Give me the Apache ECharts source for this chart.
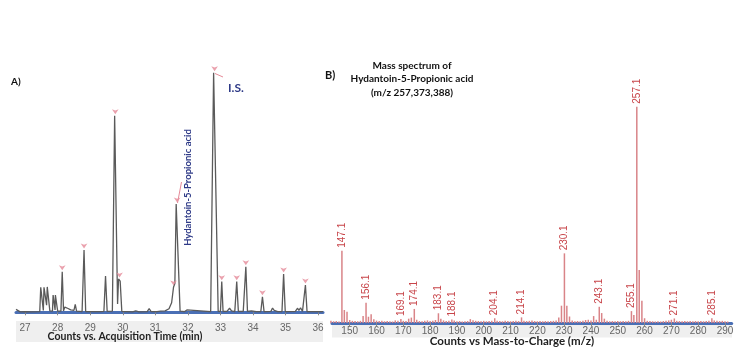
<!DOCTYPE html>
<html>
<head>
<meta charset="utf-8">
<script src="https://cdn.jsdelivr.net/npm/echarts@6/dist/echarts.min.js"></script>
<style>html,body{margin:0;padding:0;background:#fff;}#c{width:750px;height:363px;}</style>
</head>
<body>
<div id="c"></div>
<script>
// ---- Panel A: chromatogram (time in min, relative intensity %) ----
const chromTime = [26.72,26.76,26.85,27.0,27.2,27.45,27.48,27.53,27.56,27.58,27.64,27.66,27.68,27.73,27.76,27.84,27.86,27.9,27.92,27.93,27.97,28.0,28.1,28.14,28.18,28.22,28.28,28.32,28.36,28.4,28.44,28.5,28.54,28.58,28.75,28.81,28.86,29.3,29.42,29.47,29.52,29.68,29.75,29.79,29.84,29.87,29.92,29.97,30.3,30.4,30.5,30.75,30.81,30.87,31.05,31.1,31.16,31.22,31.3,31.42,31.5,31.56,31.6,31.64,31.7,31.76,31.9,31.97,32.03,32.7,32.79,32.84,32.93,33.0,33.04,33.08,33.2,33.28,33.34,33.44,33.5,33.55,33.7,33.78,33.83,33.95,34.1,34.24,34.29,34.34,34.55,34.6,34.65,34.7,34.76,34.89,34.94,34.99,35.3,35.37,35.41,35.46,35.52,35.56,35.61,35.66,35.85,35.9,35.95,36.15];
const chromIntensity = [1.2,0.6,0.2,0.3,0.2,0.3,10.4,10.4,0.8,10.4,10.4,3.0,10.6,10.4,0.6,0.5,7.2,7.2,1.0,7.2,7.2,0.5,0.5,16.9,0.6,2.2,2.3,1.6,2.0,1.0,0.5,0.8,3.3,0.5,0.3,26.0,0.3,0.3,0.4,15.1,0.4,0.5,82.0,82.0,3.5,13.9,13.0,0.4,0.2,0.6,0.2,0.3,1.5,0.3,0.3,1.0,0.5,1.0,0.6,1.5,4.0,10.6,12.0,45.2,45.2,0.5,0.3,1.0,0.3,0.3,100,100,0.4,0.4,12.8,0.4,0.4,1.7,0.6,0.3,12.8,0.4,0.4,19.0,0.4,0.6,0.3,0.3,6.5,0.3,0.4,1.8,0.8,1.4,0.3,0.3,16.0,0.3,0.4,1.7,0.8,1.9,0.4,0.4,11.4,0.3,0.3,0.8,0.3,0.3];
const markTime = [28.14,28.81,29.77,29.9,31.56,31.67,32.82,33.04,33.5,33.78,34.29,34.94,35.61];
const markIntensity = [16.9,26.0,82.0,13.9,10.6,45.2,100,12.8,12.8,19.0,6.5,16.0,11.4];
const timeTicks = [27,28,29,30,31,32,33,34,35,36];

// ---- Panel B: mass spectrum (m/z, relative abundance %) ----
const mzValues = [143,144,145,146,147.1,148,149,150,151,152,153,154,155,156.1,157,158,159,160,161,162,163,164,165,166,167,168,169.1,170,171,172,173,174.1,175,176,177,178,179,180,181,182,183.1,184,185,186,187,188.1,189,190,191,192,193,194,195,196,197,198,199,200,201,202,203,204.1,205,206,207,208,209,210,211,212,213,214.1,215,216,217,218,219,220,221,222,223,224,225,226,227,228,229,230.1,231,232,233,234,235,236,237,238,239,240,241,242,243.1,244,245,246,247,248,249,250,251,252,253,254,255.1,256,257.1,258,259,260,261,262,263,264,265,266,267,268,269,270,271.1,272,273,274,275,276,277,278,279,280,281,282,283,284,285.1,286,287,288,289,290,291];
const abundance = [1.0,0.8,0.9,0.7,33.4,6.0,5.2,1.4,1.0,0.9,0.8,1.0,3.2,9.4,2.9,4.0,1.7,1.1,0.9,1.0,0.8,0.9,0.8,0.7,1.2,1.0,1.8,1.0,0.9,2.0,2.5,6.5,1.5,0.9,0.8,1.0,1.2,0.9,1.0,1.4,4.5,2.0,1.2,0.9,1.0,1.6,1.2,0.8,0.9,0.7,0.8,0.9,1.8,1.3,1.0,0.9,0.8,1.0,0.8,0.9,1.0,2.2,1.0,0.9,0.8,1.0,0.9,0.8,0.9,1.0,0.9,2.6,1.0,0.9,1.0,1.2,0.9,0.8,0.9,0.8,0.9,0.8,0.9,1.0,1.2,2.6,8.0,32.2,8.0,3.0,1.2,0.8,0.9,0.8,1.0,1.4,1.5,1.2,3.2,1.5,7.5,4.6,2.0,1.0,0.8,0.9,0.8,0.9,0.8,0.9,0.8,1.0,5.5,3.7,100,24.5,10.3,2.2,1.0,0.9,0.8,0.7,0.8,0.7,0.9,1.0,1.2,1.5,2.1,1.0,0.9,0.8,0.9,0.8,0.9,0.8,0.9,0.8,0.9,0.8,0.9,1.0,2.2,1.2,1.0,0.9,1.0,0.8,0.7];
const labeledMz = [147.1,156.1,169.1,174.1,183.1,188.1,204.1,214.1,230.1,243.1,255.1,257.1,271.1,285.1];
const mzTicks = [150,160,170,180,190,200,210,220,230,240,250,260,270,280,290];

const chromData = chromTime.map((t, i) => [t, chromIntensity[i]]);
const markData = markTime.map((t, i) => [t, markIntensity[i]]);
const specData = mzValues.map((m, i) => {
  const d = { value: [m, abundance[i]] };
  if (labeledMz.includes(m)) d.label = { show: true };
  return d;
});

const chart = echarts.init(document.getElementById('c'), null, { renderer: 'canvas' });
const axisLblColor = '#666';
chart.setOption({
  animation: false,
  grid: [
    { left: 16, right: 427, top: 72.7, bottom: 43.5 },
    { left: 332, right: 18.3, top: 106.7, bottom: 40 }
  ],
  xAxis: [
    {
      gridIndex: 0, type: 'value', min: 26.72, max: 36.15,
      axisLine: { lineStyle: { color: '#4a6fb5', width: 3 } },
      axisTick: { show: true, length: 3, lineStyle: { color: '#888' }, customValues: timeTicks },
      axisLabel: { color: axisLblColor, fontSize: 10, margin: 4, fontFamily: 'Liberation Sans', customValues: timeTicks },
      splitLine: { show: false }
    },
    {
      gridIndex: 1, type: 'value', min: 143.4, max: 292.5,
      axisLine: { lineStyle: { color: '#4a6fb5', width: 3 } },
      axisTick: { show: true, length: 3, lineStyle: { color: '#888' }, customValues: mzTicks },
      axisLabel: { color: axisLblColor, fontSize: 10, margin: 3, fontFamily: 'Liberation Sans', customValues: mzTicks },
      splitLine: { show: false }
    }
  ],
  yAxis: [
    { gridIndex: 0, type: 'value', min: -3, max: 100, show: false },
    { gridIndex: 1, type: 'value', min: 0, max: 100, show: false }
  ],
  series: [
    {
      type: 'line', xAxisIndex: 0, yAxisIndex: 0, data: chromData,
      showSymbol: false, smooth: false,
      lineStyle: { color: '#5a5a5a', width: 1.3 }, z: 3
    },
    {
      type: 'scatter', xAxisIndex: 0, yAxisIndex: 0, data: markData,
      symbol: 'arrow', symbolSize: [5, 5], symbolRotate: 180, symbolOffset: [0, -1.5],
      itemStyle: { color: '#e58a98' }, z: 4
    },
    {
      type: 'bar', xAxisIndex: 1, yAxisIndex: 1, data: specData,
      barWidth: 1.5,
      itemStyle: { color: '#d98488' },
      label: {
        show: false, position: 'top', rotate: 90, align: 'left', verticalAlign: 'middle',
        distance: 3, color: '#c8454a', fontSize: 10, fontFamily: 'Liberation Sans Narrow, Liberation Sans',
        formatter: p => p.value[0].toFixed(1)
      },
      z: 3
    }
  ],
  graphic: [
    { type: 'rect', z: -1, shape: { x: 16, y: 321, width: 307, height: 21 }, style: { fill: '#efefef' } },
    { type: 'rect', z: -1, shape: { x: 332, y: 324.5, width: 400, height: 13 }, style: { fill: '#efefef' } },
    { type: 'text', z: 10, x: 125, y: 337, style: { text: 'Counts vs. Acquisition Time (min)', fill: '#222', font: 'bold 10.5px Lato', textAlign: 'center', textVerticalAlign: 'middle' } },
    { type: 'text', z: 10, x: 512, y: 341, style: { text: 'Counts vs Mass-to-Charge (m/z)', fill: '#222', font: 'bold 11.5px Lato', textAlign: 'center', textVerticalAlign: 'middle' } },
    { type: 'text', z: 10, x: 11, y: 82, style: { text: 'A)', fill: '#111', font: 'bold 10px Lato', textVerticalAlign: 'middle' } },
    { type: 'text', z: 10, x: 325, y: 75, style: { text: 'B)', fill: '#111', font: 'bold 11px Lato', textVerticalAlign: 'middle' } },
    { type: 'text', z: 10, x: 228, y: 88, style: { text: 'I.S.', fill: '#2e3a87', font: 'bold 12px Lato', textVerticalAlign: 'middle' } },
    { type: 'line', z: 10, shape: { x1: 215, y1: 73.5, x2: 223, y2: 77 }, style: { stroke: '#e58a98', lineWidth: 1 } },
    { type: 'text', z: 10, x: 187.5, y: 187.5, rotation: Math.PI / 2, style: { text: 'Hydantoin-5-Propionic acid', fill: '#2e3a87', font: 'bold 9.5px Lato', textAlign: 'center', textVerticalAlign: 'middle' } },
    { type: 'line', z: 10, shape: { x1: 181.5, y1: 182, x2: 177.5, y2: 203 }, style: { stroke: '#e58a98', lineWidth: 1 } },
    { type: 'text', z: 10, x: 412, y: 79, style: { text: 'Mass spectrum of\nHydantoin-5-Propionic acid\n(m/z 257,373,388)', fill: '#111', font: 'bold 10px Lato', lineHeight: 13.5, textAlign: 'center', textVerticalAlign: 'middle' } }
  ]
});
</script>
</body>
</html>
